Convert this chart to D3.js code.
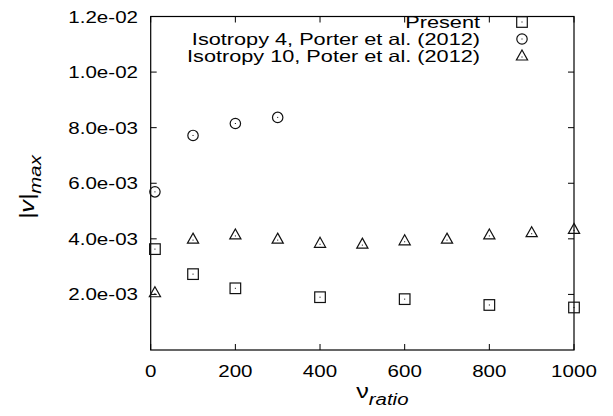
<!DOCTYPE html>
<html><head><meta charset="utf-8">
<script src="https://cdn.jsdelivr.net/npm/d3@7"></script>
<style>html,body{margin:0;padding:0;background:#fff;}svg{display:block;font-family:"Liberation Sans",Arial,sans-serif;}</style>
</head><body>
<script>
const xTicks = [0,200,400,600,800,1000];
const yTicks = [0.002,0.004,0.006,0.008,0.010,0.012];
const yTickLabels = ["2.0e-03","4.0e-03","6.0e-03","8.0e-03","1.0e-02","1.2e-02"];

const presentX = [10,100,200,400,600,800,1000];
const presentY = [0.00363,0.00273,0.00222,0.00190,0.00183,0.00162,0.00153];
const iso4X = [10,100,200,300];
const iso4Y = [0.00569,0.00772,0.00815,0.00837];
const iso10X = [10,100,200,300,400,500,600,700,800,900,1000];
const iso10Y = [0.00206,0.00399,0.00414,0.00399,0.00384,0.00381,0.00393,0.00399,0.00414,0.00422,0.00434];
const seriesNames = ["Present","Isotropy 4, Porter et al. (2012)","Isotropy 10, Poter et al. (2012)"];

const W=613,H=416;
const L=150.7,R=574,T=16.5,B=350;
const FS=17, SX=1.21;
const svg=d3.select("body").append("svg").attr("width",W).attr("height",H);
const x=d3.scaleLinear().domain([0,1000]).range([L,R]);
const y=d3.scaleLinear().domain([0,0.012]).range([B,T]);

const tk=svg.append("g").attr("stroke","#000").attr("stroke-width",1);
xTicks.forEach(v=>{
  tk.append("line").attr("x1",x(v)).attr("x2",x(v)).attr("y1",B).attr("y2",B-6);
  tk.append("line").attr("x1",x(v)).attr("x2",x(v)).attr("y1",T).attr("y2",T+6);
});
yTicks.forEach(v=>{
  tk.append("line").attr("x1",L).attr("x2",L+6).attr("y1",y(v)).attr("y2",y(v));
  tk.append("line").attr("x1",R).attr("x2",R-6).attr("y1",y(v)).attr("y2",y(v));
});
svg.append("rect").attr("x",L).attr("y",T).attr("width",R-L).attr("height",B-T)
  .attr("fill","none").attr("stroke","#000").attr("stroke-width",1.2);

function stretchedText(g,px,py,txt,anchor,fs,sx){
  return g.append("text").attr("transform",`translate(${px},${py}) scale(${sx||SX},1)`)
    .attr("text-anchor",anchor).attr("font-size",fs||FS).attr("fill","#000").text(txt);
}
const lab=svg.append("g");
xTicks.forEach(v=>stretchedText(lab,x(v),377,String(v),"middle"));
yTicks.forEach((v,i)=>stretchedText(lab,138,y(v)+6,yTickLabels[i],"end"));

const xt=svg.append("text").attr("transform",`translate(${x(500)+20},398) scale(1.2,1)`)
  .attr("text-anchor","middle").attr("font-size",21).attr("fill","#000");
xt.append("tspan").text("\u03bd");
xt.append("tspan").attr("font-style","italic").attr("font-size",17).attr("dy",7).text("ratio");

const yt=svg.append("text").attr("transform",`translate(34,${(T+B)/2+4}) rotate(-90) scale(1.2,1)`)
  .attr("text-anchor","middle").attr("font-size",21).attr("fill","#000").attr("font-style","italic");
yt.append("tspan").text("|v|");
yt.append("tspan").attr("font-size",17).attr("dy",7).text("max");

const mk=svg.append("g").attr("fill","none").attr("stroke","#111").attr("stroke-width",1.2);
function square(g,cx,cy){g.append("rect").attr("x",cx-5.3).attr("y",cy-5.3).attr("width",10.6).attr("height",10.6);
  g.append("rect").attr("x",cx-0.5).attr("y",cy-0.5).attr("width",1).attr("height",1).attr("fill","#000").attr("stroke","none");}
function circle(g,cx,cy){g.append("circle").attr("cx",cx).attr("cy",cy).attr("r",5.2);
  g.append("rect").attr("x",cx-0.5).attr("y",cy-0.5).attr("width",1).attr("height",1).attr("fill","#000").attr("stroke","none");}
function tri(g,cx,cy){g.append("path").attr("d",`M${cx},${cy-6}L${cx+5.6},${cy+4}L${cx-5.6},${cy+4}Z`);
  g.append("rect").attr("x",cx-0.5).attr("y",cy+0.5).attr("width",1).attr("height",1).attr("fill","#000").attr("stroke","none");}
presentX.forEach((v,i)=>square(mk,x(v),y(presentY[i])));
iso4X.forEach((v,i)=>circle(mk,x(v),y(iso4Y[i])));
iso10X.forEach((v,i)=>tri(mk,x(v),y(iso10Y[i])));

const lg=svg.append("g");
const rowY=[22,39,56];
const fns=[square,circle,tri];
seriesNames.forEach((n,i)=>{
  lg.append("text").attr("transform",`translate(480,${rowY[i]+5.5}) scale(1.4,1.05)`)
    .attr("text-anchor","end").attr("font-size",15.5).attr("fill","#000").text(n);
  fns[i](mk,522,rowY[i]);
});
</script>
</body></html>
